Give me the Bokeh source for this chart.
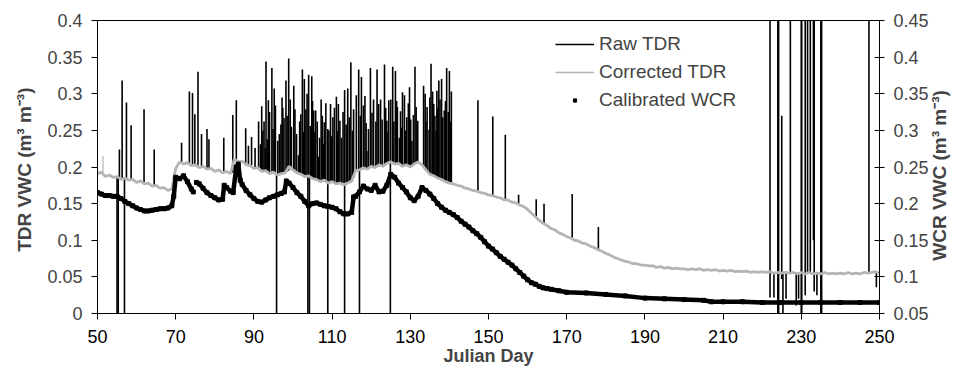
import math
from bokeh.plotting import figure
from bokeh.models import (Range1d, LinearAxis, FixedTicker, CustomJSTickFormatter,
                          Legend, LegendItem, ColumnDataSource)
from bokeh.embed import file_html
from bokeh.resources import INLINE

FONT = "Liberation Sans"

# ---------------- data ----------------
x_ticks = [50, 70, 90, 110, 130, 150, 170, 190, 210, 230, 250]
left_ticks = [0, 0.05, 0.1, 0.15, 0.2, 0.25, 0.3, 0.35, 0.4]
right_ticks = [0.05, 0.1, 0.15, 0.2, 0.25, 0.3, 0.35, 0.4, 0.45]

# Corrected TDR (left axis), one reading per day, days 50..250
corr_days = list(range(50, 251))
corr_vwc = [
    0.191, 0.193, 0.187, 0.189, 0.186, 0.187, 0.183, 0.185, 0.182, 0.183,
    0.179, 0.181, 0.177, 0.178, 0.174, 0.175, 0.171, 0.172, 0.168, 0.170,
    0.198, 0.207, 0.204, 0.206, 0.202, 0.203, 0.199, 0.201, 0.197, 0.198,
    0.194, 0.196, 0.192, 0.194, 0.191, 0.211, 0.207, 0.208, 0.203, 0.202,
    0.198, 0.199, 0.194, 0.195, 0.191, 0.193, 0.189, 0.191, 0.192, 0.201,
    0.196, 0.192, 0.190, 0.187, 0.188, 0.184, 0.183, 0.180, 0.182, 0.178,
    0.180, 0.177, 0.178, 0.176, 0.178, 0.181, 0.195, 0.196, 0.199, 0.197,
    0.201, 0.199, 0.203, 0.201, 0.205, 0.207, 0.204, 0.205, 0.201, 0.203,
    0.200, 0.204, 0.207, 0.203, 0.196, 0.190, 0.188, 0.185, 0.183, 0.180,
    0.178, 0.177, 0.175, 0.174, 0.171, 0.170, 0.168, 0.167, 0.165, 0.164,
    0.162, 0.161, 0.159, 0.158, 0.155, 0.155, 0.152, 0.151, 0.148, 0.146,
    0.142, 0.137, 0.132, 0.127, 0.123, 0.120, 0.116, 0.114, 0.110, 0.108,
    0.105, 0.103, 0.100, 0.099, 0.096, 0.095, 0.092, 0.090, 0.087, 0.085,
    0.082, 0.080, 0.077, 0.075, 0.073, 0.071, 0.070, 0.068, 0.068, 0.066,
    0.066, 0.065, 0.065, 0.063, 0.064, 0.062, 0.063, 0.061, 0.062, 0.061,
    0.061, 0.060, 0.061, 0.060, 0.061, 0.059, 0.060, 0.059, 0.060, 0.058,
    0.059, 0.058, 0.059, 0.057, 0.058, 0.057, 0.058, 0.056, 0.057, 0.056,
    0.057, 0.056, 0.057, 0.055, 0.056, 0.055, 0.056, 0.055, 0.056, 0.054,
    0.056, 0.054, 0.056, 0.054, 0.055, 0.054, 0.056, 0.054, 0.055, 0.054,
    0.055, 0.054, 0.056, 0.054, 0.055, 0.054, 0.056, 0.055, 0.056, 0.057,
    0.055,
]
corr_spikes = [(51.4, 0.192, 0.215)]

# Raw TDR spikes: (day, from, to) on the left axis
spikes_early = [
    (55.6, 0.186, 0.224), (56.3, 0.185, 0.318), (57.4, 0.184, 0.288),
    (58.6, 0.183, 0.257), (61.9, 0.179, 0.279), (64.5, 0.175, 0.224),
    (71.5, 0.205, 0.233), (73.5, 0.205, 0.303), (74.3, 0.203, 0.301),
    (74.9, 0.203, 0.272), (75.7, 0.202, 0.330), (76.6, 0.200, 0.245),
    (78.0, 0.198, 0.252), (78.5, 0.198, 0.238), (82.3, 0.193, 0.240),
    (84.6, 0.192, 0.271), (85.5, 0.210, 0.291), (87.9, 0.205, 0.253),
    (91.7, 0.198, 0.231), (92.3, 0.195, 0.250), (93.1, 0.195, 0.344),
    (93.7, 0.193, 0.291), (94.6, 0.192, 0.335), (95.2, 0.193, 0.307),
    (96.5, 0.190, 0.245), (97.2, 0.191, 0.295), (97.7, 0.192, 0.267),
]
spikes_dense = [
    (98.2, 0.193, 0.318), (98.9, 0.195, 0.348), (99.3, 0.198, 0.292),
    (100.2, 0.195, 0.311), (100.9, 0.193, 0.245), (101.4, 0.192, 0.216),
    (102.0, 0.190, 0.272), (102.4, 0.190, 0.333), (102.9, 0.188, 0.320),
    (103.3, 0.188, 0.279), (104.0, 0.187, 0.326), (104.8, 0.186, 0.324),
    (105.3, 0.184, 0.277), (105.8, 0.184, 0.277), (106.5, 0.183, 0.214),
    (107.2, 0.181, 0.292), (108.0, 0.181, 0.261), (108.9, 0.180, 0.252),
    (109.2, 0.179, 0.250), (109.6, 0.179, 0.286), (110.2, 0.179, 0.268),
    (111.1, 0.178, 0.296), (111.6, 0.177, 0.286), (112.0, 0.177, 0.263),
    (113.2, 0.176, 0.305), (114.0, 0.177, 0.307), (114.8, 0.179, 0.343),
    (115.5, 0.185, 0.279), (116.8, 0.195, 0.333), (117.5, 0.197, 0.323),
    (118.4, 0.198, 0.297), (118.9, 0.197, 0.222), (119.8, 0.199, 0.335),
    (120.6, 0.200, 0.292), (121.5, 0.200, 0.333), (121.9, 0.201, 0.286),
    (122.4, 0.202, 0.292), (123.4, 0.203, 0.340), (124.0, 0.204, 0.263),
    (124.5, 0.205, 0.291), (125.0, 0.206, 0.292), (125.5, 0.206, 0.337),
    (126.2, 0.204, 0.331), (126.7, 0.204, 0.282), (127.7, 0.203, 0.254),
    (128.0, 0.201, 0.302), (128.5, 0.202, 0.298), (129.1, 0.202, 0.268),
    (129.8, 0.201, 0.309), (130.4, 0.202, 0.236), (131.2, 0.205, 0.337),
    (131.9, 0.206, 0.263), (133.4, 0.200, 0.311), (133.8, 0.198, 0.300),
    (134.3, 0.194, 0.282), (135.3, 0.190, 0.341), (135.7, 0.189, 0.303),
    (136.3, 0.187, 0.270), (136.8, 0.186, 0.304), (137.3, 0.184, 0.318),
    (138.0, 0.183, 0.320), (138.7, 0.181, 0.277), (139.3, 0.180, 0.335),
    (140.0, 0.178, 0.331), (140.5, 0.178, 0.303),
    (92.6, 0.195, 0.262), (93.4, 0.194, 0.238), (94.0, 0.192, 0.275),
    (94.9, 0.192, 0.252), (95.5, 0.193, 0.284), (96.1, 0.190, 0.236),
    (96.9, 0.190, 0.258), (97.4, 0.191, 0.281), (98.5, 0.194, 0.270),
    (99.6, 0.198, 0.255), (100.5, 0.194, 0.279), (101.7, 0.191, 0.262),
    (102.7, 0.189, 0.248), (103.6, 0.187, 0.300), (104.4, 0.187, 0.256),
    (105.0, 0.185, 0.290), (105.6, 0.184, 0.248), (106.2, 0.183, 0.262),
    (106.8, 0.182, 0.240), (107.5, 0.181, 0.270), (107.8, 0.181, 0.231),
    (108.4, 0.181, 0.287), (109.9, 0.179, 0.242), (110.6, 0.178, 0.281),
    (111.4, 0.177, 0.249), (112.4, 0.177, 0.240), (112.8, 0.177, 0.275),
    (113.6, 0.176, 0.258), (114.4, 0.178, 0.268), (115.2, 0.181, 0.250),
    (116.2, 0.195, 0.298), (117.2, 0.196, 0.270), (118.0, 0.198, 0.284),
    (118.7, 0.198, 0.260), (119.3, 0.198, 0.252), (120.2, 0.200, 0.274),
    (121.2, 0.200, 0.262), (122.8, 0.202, 0.265), (123.7, 0.203, 0.281),
    (124.3, 0.204, 0.247), (125.8, 0.205, 0.262), (126.5, 0.204, 0.290),
    (127.2, 0.204, 0.240), (127.5, 0.203, 0.276), (128.8, 0.202, 0.250),
    (129.5, 0.202, 0.287), (130.1, 0.201, 0.265), (130.8, 0.203, 0.271),
    (131.5, 0.205, 0.282), (134.0, 0.195, 0.262), (134.8, 0.192, 0.251),
    (135.0, 0.191, 0.295), (136.0, 0.188, 0.286), (136.6, 0.187, 0.250),
    (137.0, 0.185, 0.280), (137.6, 0.184, 0.292), (138.3, 0.182, 0.268),
    (139.0, 0.181, 0.290), (139.7, 0.179, 0.275), (140.2, 0.178, 0.262),
    (88.6, 0.203, 0.229), (89.4, 0.202, 0.241), (90.3, 0.199, 0.226),
    (91.2, 0.198, 0.262), (92.0, 0.196, 0.283), (92.9, 0.195, 0.226),
]
spikes_late = [
    (147.3, 0.167, 0.291), (151.1, 0.161, 0.269), (154.3, 0.155, 0.244),
    (157.7, 0.150, 0.162), (162.2, 0.130, 0.156), (164.2, 0.123, 0.150),
    (171.4, 0.102, 0.163), (178.1, 0.087, 0.118),
]
drops = [
    (55.0, 0.187, 0.0), (55.3, 0.187, 0.0), (56.9, 0.185, 0.0),
    (95.8, 0.190, 0.0), (103.8, 0.188, 0.0), (104.2, 0.188, 0.0),
    (108.9, 0.182, 0.0), (113.2, 0.176, 0.0), (117.0, 0.196, 0.0),
    (124.9, 0.205, 0.0),
]
spikes_end = [
    (222.0, 0.022, 0.42), (223.0, 0.056, 0.022), (224.0, -0.005, 0.42),
    (224.2, -0.005, 0.42), (225.0, 0.047, 0.270), (225.3, 0.056, 0.0),
    (226.1, 0.056, 0.020), (227.2, 0.056, 0.42), (228.7, 0.056, 0.011),
    (229.3, 0.056, 0.020), (230.0, -0.005, 0.42), (230.1, -0.005, 0.42),
    (231.0, 0.025, 0.42), (231.6, 0.056, 0.42), (232.3, 0.056, 0.42),
    (233.1, 0.100, 0.42), (233.3, 0.030, 0.42), (234.0, 0.056, 0.025),
    (235.0, -0.005, 0.42), (235.2, -0.005, 0.42), (247.3, 0.055, 0.42),
    (249.2, 0.056, 0.036),
]

# Calibrated WCR (right axis)
wcr_days = [
    50, 51, 52, 53, 54, 55, 56, 57, 58, 59, 60, 61, 62, 63, 64, 65, 66, 67, 68, 69,
    69.5, 70, 71, 72, 73, 74, 74.5, 74.9, 75.3, 76, 77, 78, 79, 80, 81, 82, 82.4, 83,
    84, 84.7, 85.5, 86, 86.5, 87, 88, 89, 90, 91, 92, 93, 94, 95, 96, 97, 97.8, 98.3,
    99, 100, 101, 102, 103, 104, 105, 106, 107, 108, 109, 110, 111, 112, 113, 114,
    115, 115.5, 116, 117, 118, 119, 120, 121, 122, 123, 124, 125, 126, 127, 128, 129,
    130, 131, 132, 133, 134, 135, 136, 137, 138, 139, 140, 141, 142, 143, 144, 145,
    146, 147, 148, 149, 150, 151, 152, 153, 154, 155, 156, 157, 158, 159, 160, 161,
    162, 163, 164, 165, 166, 168, 170, 175, 180, 185, 190, 195, 200, 205, 207, 210,
    215, 220, 225, 230, 235, 240, 245, 250,
]
wcr_vwc = [
    0.215, 0.213, 0.211, 0.211, 0.210, 0.210, 0.207, 0.203, 0.200, 0.197, 0.194,
    0.192, 0.190, 0.190, 0.191, 0.192, 0.193, 0.193, 0.194, 0.197,
    0.210, 0.236, 0.234, 0.238, 0.230, 0.220, 0.216, float("nan"), 0.229, 0.227,
    0.221, 0.215, 0.211, 0.208, 0.205, 0.206, 0.225, 0.222,
    0.217, 0.215, 0.250, 0.254, 0.232, 0.226, 0.218, 0.212, 0.207, 0.203, 0.202,
    0.205, 0.208, 0.210, 0.212, 0.214, 0.216, 0.231,
    0.228, 0.222, 0.215, 0.210, 0.203, 0.197, 0.200, 0.201, 0.199, 0.197, 0.196,
    0.195, 0.193, 0.189, 0.186, 0.186,
    0.188, 0.209, 0.210, 0.216, 0.224, 0.220, 0.218, 0.225, 0.216, 0.217, 0.225,
    0.240, 0.236, 0.228, 0.222, 0.216,
    0.208, 0.204, 0.210, 0.222, 0.218, 0.213, 0.207, 0.200, 0.195, 0.191, 0.188,
    0.185, 0.181, 0.176, 0.172, 0.168,
    0.163, 0.159, 0.154, 0.148, 0.142, 0.138, 0.133, 0.128, 0.124, 0.120, 0.116,
    0.111, 0.106, 0.101, 0.096, 0.092,
    0.090, 0.087, 0.085, 0.084, 0.083, 0.081, 0.079, 0.078, 0.076, 0.074, 0.071,
    0.070, 0.069, 0.068, 0.066, 0.066,
    0.066, 0.065, 0.065, 0.065, 0.065, 0.065, 0.065, 0.065,
]

LEFT_TITLE = "TDR VWC  (m³ m⁻³)"
RIGHT_TITLE = "WCR VWC  (m³ m⁻³)"

# ---------------- figure ----------------
p = figure(width=963, height=371, output_backend="svg", toolbar_location=None,
           x_range=Range1d(50, 250), y_range=Range1d(0, 0.4),
           min_border_left=97, min_border_right=79, min_border_top=20,
           min_border_bottom=58)
p.extra_y_ranges = {"wcr": Range1d(0.05, 0.45)}
p.xgrid.visible = False
p.ygrid.visible = False
p.outline_line_color = "black"
p.outline_line_width = 1
p.background_fill_color = "white"
p.border_fill_color = "white"

FMT_CODE = "return parseFloat(tick.toFixed(2)).toString();"

xa = p.xaxis[0]
xa.ticker = FixedTicker(ticks=x_ticks)
xa.major_tick_out = 6
xa.major_tick_in = 0
xa.minor_tick_line_color = None
xa.major_label_standoff = 10
xa.major_label_text_font = FONT
xa.major_label_text_font_size = "18px"
xa.major_label_text_color = "black"
xa.axis_label = "Julian Day"
xa.axis_label_text_font = FONT
xa.axis_label_text_font_style = "bold"
xa.axis_label_text_font_size = "18px"
xa.axis_label_standoff = 0
xa.axis_line_color = "black"

ya = p.yaxis[0]
ya.ticker = FixedTicker(ticks=left_ticks)
ya.formatter = CustomJSTickFormatter(code=FMT_CODE)
ya.major_tick_out = 6
ya.major_tick_in = 0
ya.minor_tick_line_color = None
ya.major_label_standoff = 9
ya.major_label_text_font = FONT
ya.major_label_text_font_size = "18px"
ya.axis_label = LEFT_TITLE
ya.axis_label_text_font = FONT
ya.axis_label_text_font_style = "bold"
ya.axis_label_text_font_size = "19px"
ya.axis_label_standoff = 9
ya.axis_line_color = "black"

ra = LinearAxis(y_range_name="wcr", ticker=FixedTicker(ticks=right_ticks),
                formatter=CustomJSTickFormatter(code=FMT_CODE))
ra.major_tick_out = 5
ra.major_tick_in = 5
ra.minor_tick_line_color = None
ra.major_label_standoff = 9
ra.major_label_text_font = FONT
ra.major_label_text_font_size = "18px"
ra.axis_line_color = "black"
ra.axis_label_text_font = FONT
ra.axis_label_text_font_style = "bold"
ra.axis_label_text_font_size = "19px"
ra.axis_label_standoff = 8
if hasattr(ra, "axis_label_orientation") and hasattr(ra, "axis_label_align"):
    # bottom-to-top reading; label anchored at its start from the bottom of the axis
    ra.axis_label_orientation = math.pi / 2
    ra.axis_label_align = "start"
    ra.axis_label = "\u00a0" * 10 + RIGHT_TITLE
else:
    ra.axis_label = RIGHT_TITLE
p.add_layout(ra, "right")

# ---------------- glyphs ----------------
all_spikes = spikes_early + spikes_dense + spikes_late + drops + spikes_end
raw_src = ColumnDataSource(dict(
    x=[s[0] for s in all_spikes],
    y0=[s[1] for s in all_spikes],
    y1=[s[2] for s in all_spikes],
))
raw_r = p.segment(x0="x", y0="y0", x1="x", y1="y1", source=raw_src,
                  line_color="black", line_width=1.6)

p.line(corr_days, corr_vwc, line_color="#b5b5b5", line_width=2.8)
corr_key = p.line(corr_days, corr_vwc, line_color="#b5b5b5", line_width=1.3)
cs_src = ColumnDataSource(dict(
    x=[s[0] for s in corr_spikes],
    y0=[s[1] for s in corr_spikes],
    y1=[s[2] for s in corr_spikes],
))
p.segment(x0="x", y0="y0", x1="x", y1="y1", source=cs_src,
          line_color="#b5b5b5", line_width=1.2)

p.line(wcr_days, wcr_vwc, y_range_name="wcr", line_color="black", line_width=4.5)
wcr_pts = p.scatter(wcr_days, wcr_vwc, y_range_name="wcr", marker="square",
                    size=4, fill_color="black", line_color="black")

legend = Legend(items=[
    LegendItem(label="Raw TDR", renderers=[raw_r]),
    LegendItem(label="Corrected TDR", renderers=[corr_key]),
    LegendItem(label="Calibrated WCR", renderers=[wcr_pts]),
], location=(458, 202))
legend.glyph_width = 39
legend.glyph_height = 8
legend.label_height = 20
legend.label_standoff = 5
legend.spacing = 6
legend.padding = 0
legend.margin = 0
legend.border_line_alpha = 0
legend.background_fill_alpha = 0
legend.label_text_font = FONT
legend.label_text_font_size = "19px"
p.add_layout(legend)

open("out.html", "w").write(file_html(p, INLINE))
